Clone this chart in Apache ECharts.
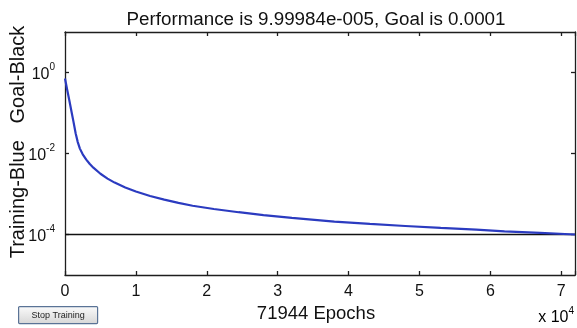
<!DOCTYPE html>
<html>
<head>
<meta charset="utf-8">
<script src="https://cdn.jsdelivr.net/npm/echarts@6/dist/echarts.min.js"></script>
<style>
    html, body { margin: 0; padding: 0; background: #fff; }
    #chart { width: 577px; height: 328px; }
</style>
</head>
<body>
<div id="chart"></div>
<script>
var epochs = [0, 300, 600, 900, 1200, 1500, 1800, 2100, 2500, 3000, 3500, 4000, 5000, 6000, 7000, 8500,
    10000, 12000, 14000, 16000, 18000, 21000, 24500, 28000, 32000, 38000, 43000, 48000, 53000, 58000,
    62000, 67000, 71944];
var performance = [0.708, 0.380, 0.209, 0.112, 0.0603, 0.0316, 0.0191, 0.0132, 0.00955, 0.00708, 0.0055,
    0.00447, 0.00316, 0.0024, 0.00191, 0.00145, 0.00115, 0.000891, 0.000724, 0.000603, 0.000513,
    0.000427, 0.000355, 0.000302, 0.000257, 0.000209, 0.000182, 0.000162, 0.000145, 0.000132,
    0.00012, 0.00011, 0.0000999984];
var goalEpochs = [0, 71944];
var goalValues = [0.0001, 0.0001];
var yTickValues = [1e-4, 1e-2, 1];
var xTickValues = [0, 1, 2, 3, 4, 5, 6, 7];

(function () {
    'use strict';

    var FONT = 'Liberation Sans, Arial, sans-serif';
    var AXIS_COLOR = '#1e1e1e';

    function pairs(xs, ys) {
        return xs.map(function (x, i) {
            return [x, ys[i]];
        });
    }

    function powerLabel(value) {
        var exp = Math.round(Math.log10(value));
        return '{b|10}{e|' + exp + '}';
    }

    var chart = echarts.init(document.getElementById('chart'), null, { renderer: 'canvas' });

    var xBase = {
        type: 'value',
        min: 0,
        max: 71944,
        interval: 10000,
        axisLine: { show: true, onZero: false, lineStyle: { color: AXIS_COLOR, width: 1.3 } },
        axisTick: { show: true, inside: true, length: 4, lineStyle: { color: AXIS_COLOR, width: 1.3 } },
        splitLine: { show: false }
    };

    var yBase = {
        type: 'log',
        logBase: 10,
        min: 1e-5,
        max: 10,
        axisLine: { show: true, onZero: false, lineStyle: { color: AXIS_COLOR, width: 1.3 } },
        axisTick: { show: true, inside: true, length: 4, customValues: yTickValues, lineStyle: { color: AXIS_COLOR, width: 1.3 } },
        minorTick: { show: false },
        splitLine: { show: false }
    };

    chart.setOption({
        animation: false,
        backgroundColor: '#ffffff',
        textStyle: { fontFamily: FONT },
        title: {
            text: 'Performance is 9.99984e-005, Goal is 0.0001',
            left: 311,
            top: 5,
            textAlign: 'center',
            textStyle: { fontFamily: FONT, fontSize: 18.8, fontWeight: 'normal', color: '#111' }
        },
        grid: {
            left: 65,
            top: 32,
            width: 510,
            height: 243,
            containLabel: false,
            outerBoundsMode: 'none'
        },
        xAxis: [
            Object.assign({}, xBase, {
                position: 'bottom',
                name: '71944 Epochs',
                nameLocation: 'middle',
                nameGap: 29,
                nameTextStyle: { fontFamily: FONT, fontSize: 18.5, color: '#111', padding: [0, 8, 0, 0] },
                axisLabel: {
                    margin: 9,
                    fontFamily: FONT,
                    fontSize: 16,
                    color: '#111',
                    formatter: function (value) {
                        var idx = xTickValues.indexOf(value / 10000);
                        return idx < 0 ? '' : String(xTickValues[idx]);
                    }
                }
            }),
            Object.assign({}, xBase, {
                position: 'top',
                axisLabel: { show: false }
            })
        ],
        yAxis: [
            Object.assign({}, yBase, {
                position: 'left',
                axisLabel: {
                    margin: 10,
                    customValues: yTickValues,
                    formatter: powerLabel,
                    rich: {
                        b: { fontFamily: FONT, fontSize: 16, color: '#111', lineHeight: 20, verticalAlign: 'bottom' },
                        e: { fontFamily: FONT, fontSize: 10, color: '#111', lineHeight: 20, verticalAlign: 'top', padding: [0, 0, 8, 0] }
                    }
                }
            }),
            Object.assign({}, yBase, {
                position: 'right',
                axisLabel: { show: false }
            })
        ],
        series: [
            {
                type: 'line',
                name: 'Goal',
                data: pairs(goalEpochs, goalValues),
                showSymbol: false,
                lineStyle: { color: '#111111', width: 1.3 },
                z: 2
            },
            {
                type: 'line',
                name: 'Training',
                data: pairs(epochs, performance),
                showSymbol: false,
                smooth: false,
                lineStyle: { color: '#2b3bc0', width: 2.2 },
                z: 3
            }
        ],
        graphic: [
            {
                // y axis title, placed by hand like MATLAB does
                type: 'text',
                x: 18,
                y: 142,
                rotation: Math.PI / 2,
                style: {
                    text: 'Training-Blue   Goal-Black',
                    fontFamily: FONT,
                    fontSize: 20,
                    fill: '#111',
                    align: 'center',
                    verticalAlign: 'middle'
                }
            },
            {
                type: 'text',
                right: 3,
                top: 306,
                style: {
                    text: '{b|x 10}{e|4}',
                    rich: {
                        b: { fontFamily: FONT, fontSize: 16, color: '#111', lineHeight: 20, verticalAlign: 'bottom' },
                        e: { fontFamily: FONT, fontSize: 10, color: '#111', lineHeight: 20, verticalAlign: 'top' }
                    }
                }
            },
            {
                type: 'group',
                left: 18,
                top: 306,
                children: [
                    {
                        type: 'rect',
                        shape: { x: 0, y: 0, width: 79, height: 17, r: 1 },
                        style: {
                            fill: new echarts.graphic.LinearGradient(0, 0, 0, 1, [
                                { offset: 0, color: '#fbfbfb' },
                                { offset: 1, color: '#d6d6d6' }
                            ]),
                            stroke: '#5a7396',
                            lineWidth: 1.2
                        }
                    },
                    {
                        type: 'text',
                        x: 39.5,
                        y: 8.5,
                        style: {
                            text: 'Stop Training',
                            fontFamily: FONT,
                            fontSize: 9,
                            fill: '#222',
                            align: 'center',
                            verticalAlign: 'middle'
                        }
                    }
                ]
            }
        ]
    });
})();
</script>
</body>
</html>
